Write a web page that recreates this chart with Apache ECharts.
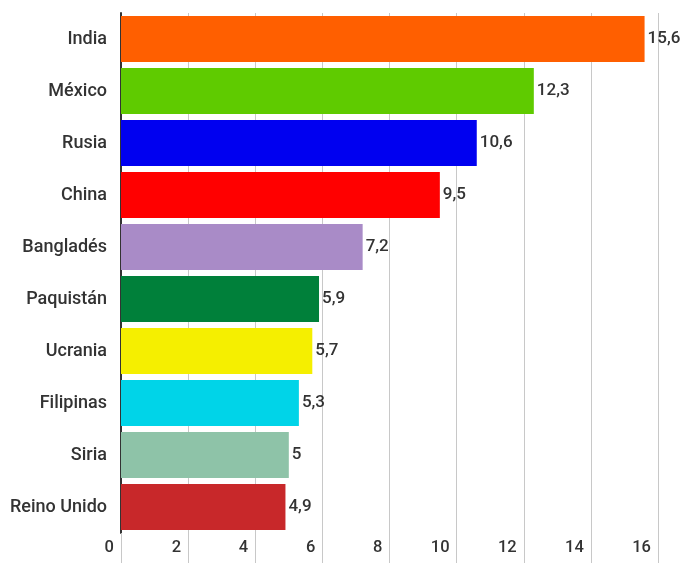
<!DOCTYPE html>
<html>
<head>
<meta charset="utf-8">
<script src="https://cdn.jsdelivr.net/npm/echarts@6/dist/echarts.min.js"></script>
<style>html,body{margin:0;padding:0;background:#fff;}#c{width:685px;height:563px;}</style>
</head>
<body>
<div id="c"></div>
<script>
var categories = ['India','México','Rusia','China','Bangladés','Paquistán','Ucrania','Filipinas','Siria','Reino Unido'];
var values = [15.6, 12.3, 10.6, 9.5, 7.2, 5.9, 5.7, 5.3, 5, 4.9];
var colors = ['#FF5F00','#5FCB00','#0000F0','#FF0000','#A98BC7','#00803A','#F5EF00','#00D4E8','#8EC3A8','#C8282A'];
var xTicks = {min: 0, max: 16, interval: 2};

var chart = echarts.init(document.getElementById('c'));
chart.setOption({
  animation: false,
  grid: {left: 121, right: 27, top: 13, bottom: 30, containLabel: false},
  xAxis: {
    type: 'value', min: xTicks.min, max: xTicks.max, interval: xTicks.interval,
    axisLine: {show: false},
    axisTick: {show: true, length: 30, lineStyle: {color: '#c8c8c8', width: 1}},
    splitLine: {show: true, lineStyle: {color: '#c8c8c8', width: 1}},
    axisLabel: {
      align: 'right', padding: [0, 7, 0, 0], margin: 6,
      fontFamily: 'Roboto', fontSize: 16.5, fontWeight: 500, color: '#333'
    }
  },
  yAxis: {
    type: 'category', data: categories, inverse: true,
    axisLine: {show: true, lineStyle: {color: '#333', width: 2}},
    axisTick: {show: false},
    axisLabel: {margin: 14, fontFamily: 'Roboto', fontSize: 18, fontWeight: 500, color: '#333'}
  },
  series: [{
    type: 'bar',
    barWidth: 46,
    data: values.map(function (v, i) { return {value: v, itemStyle: {color: colors[i]}}; }),
    label: {
      show: true, position: 'right', distance: 3,
      fontFamily: 'Roboto', fontSize: 17, fontWeight: 500, color: '#333',
      formatter: function (p) { return String(p.value).replace('.', ','); }
    }
  }]
});
</script>
</body>
</html>
